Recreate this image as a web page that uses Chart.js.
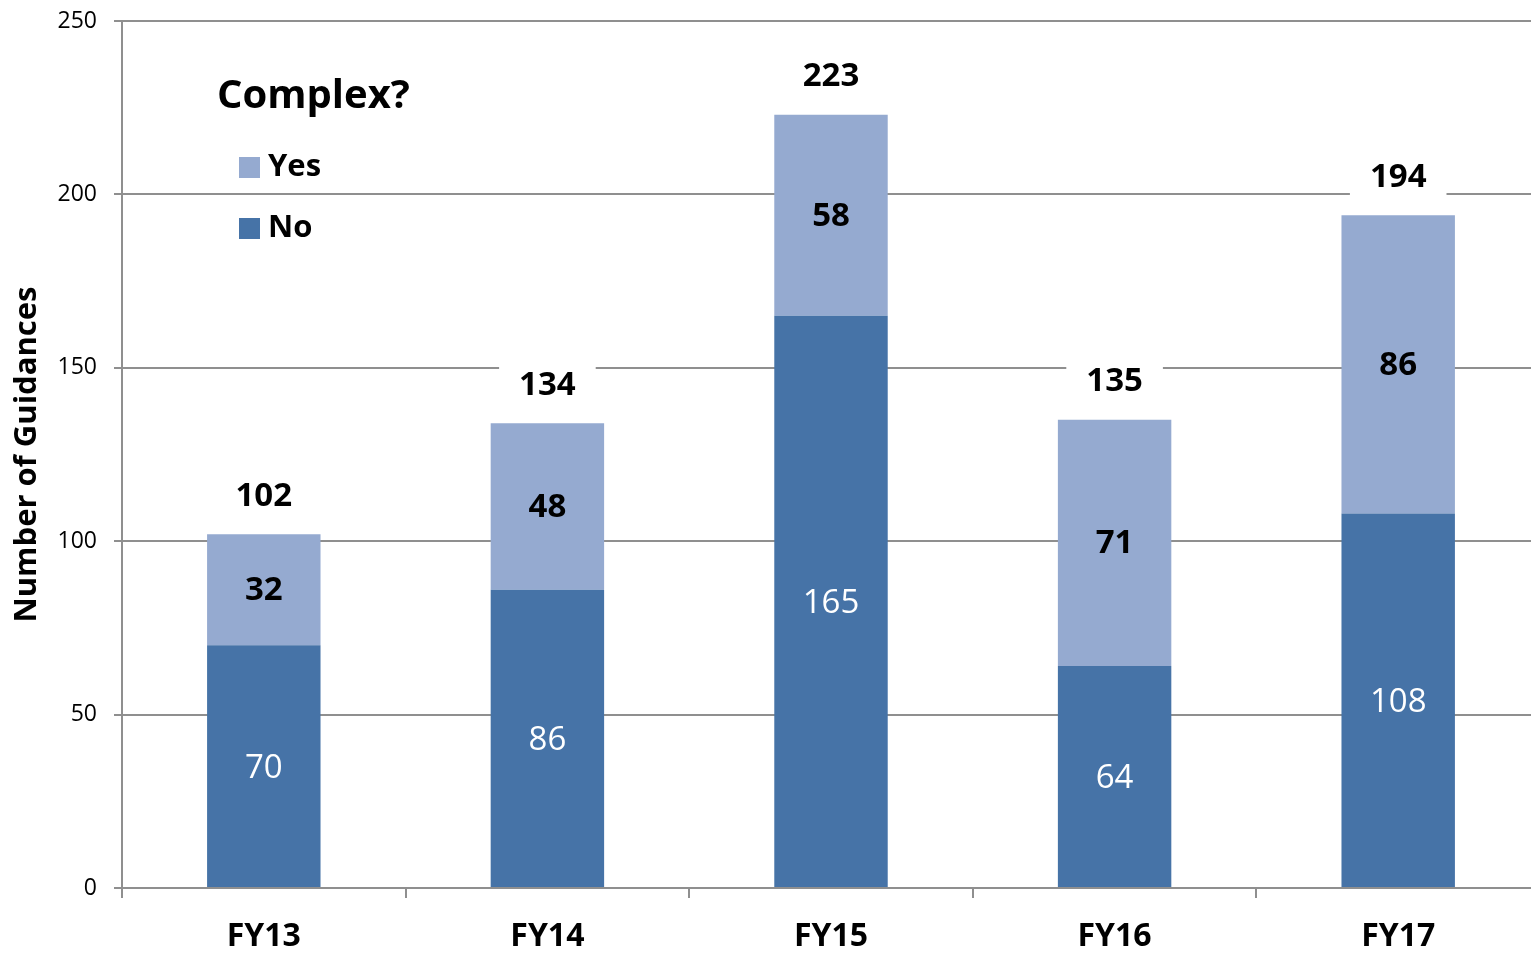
<!DOCTYPE html>
<html>
<head>
<meta charset="utf-8">
<script src="https://cdn.jsdelivr.net/npm/chart.js@4.4.1/dist/chart.umd.min.js"></script>
<style>
  html, body { margin: 0; padding: 0; background: #fff; overflow: hidden; }
  #wrap { position: absolute; left: 0; top: 0; }
</style>
</head>
<body>
<div id="wrap"><canvas id="guidanceChart" width="1545" height="954"></canvas></div>
<script>
// Datos del gráfico
const years = ['FY13', 'FY14', 'FY15', 'FY16', 'FY17'];
const notComplex = [70, 86, 165, 64, 108];
const complexYes = [32, 48, 58, 71, 86];
const yTicks = [0, 50, 100, 150, 200, 250];

const FONT = "'Open Sans', 'DejaVu Sans', sans-serif";
const gridGray = '#8f8f8f';

// Etiquetas dentro de las barras y totales encima
const barLabels = {
    id: 'barLabels',
    afterDatasetsDraw(chart) {
        const ctx = chart.ctx;
        ctx.save();
        ctx.textAlign = 'center';
        ctx.textBaseline = 'middle';
        const noMeta = chart.getDatasetMeta(0);
        const yesMeta = chart.getDatasetMeta(1);
        noMeta.data.forEach((bar, i) => {
            ctx.fillStyle = '#ffffff';
            ctx.font = '33px ' + FONT;
            ctx.fillText(String(notComplex[i]), bar.x, (bar.y + bar.base) / 2 + 2);
        });
        yesMeta.data.forEach((bar, i) => {
            ctx.fillStyle = '#000000';
            ctx.font = 'bold 33px ' + FONT;
            ctx.fillText(String(complexYes[i]), bar.x, (bar.y + bar.base) / 2 + 1);
            // total
            const total = notComplex[i] + complexYes[i];
            const ty = bar.y - 38;
            const w = ctx.measureText(String(total)).width;
            ctx.fillStyle = '#ffffff';
            ctx.fillRect(bar.x - w / 2 - 20, ty - 22, w + 40, 44);
            ctx.fillStyle = '#000000';
            ctx.fillText(String(total), bar.x, ty);
        });
        ctx.restore();
    }
};

// Leyenda dentro del área del gráfico
const insideLegend = {
    id: 'insideLegend',
    afterDraw(chart) {
        const ctx = chart.ctx;
        ctx.save();
        ctx.textBaseline = 'middle';
        ctx.textAlign = 'left';
        ctx.fillStyle = '#000';
        ctx.font = 'bold 40px ' + FONT;
        ctx.fillText('Complex?', 217, 97);
        const items = [1, 0];
        items.forEach((dsIndex, k) => {
            const ds = chart.data.datasets[dsIndex];
            const cy = 167 + k * 61;
            ctx.fillStyle = ds.backgroundColor;
            ctx.fillRect(239, cy - 10, 21, 21);
            ctx.fillStyle = '#000';
            ctx.font = 'bold 31px ' + FONT;
            ctx.fillText(ds.label, 268, cy);
        });
        ctx.restore();
    }
};

const ctx = document.getElementById('guidanceChart').getContext('2d');
new Chart(ctx, {
    type: 'bar',
    data: {
        labels: years,
        datasets: [
            { label: 'No', data: notComplex, backgroundColor: '#4673a7', barPercentage: 0.4, categoryPercentage: 1 },
            { label: 'Yes', data: complexYes, backgroundColor: '#95aad0', barPercentage: 0.4, categoryPercentage: 1 }
        ]
    },
    options: {
        responsive: false,
        animation: false,
        layout: { padding: { top: 21, right: 5, left: 0, bottom: 0 } },
        plugins: {
            legend: { display: false },
            tooltip: { enabled: false }
        },
        scales: {
            x: {
                stacked: true,
                afterFit: (scale) => { scale.height = 66; scale.paddingLeft = 0; scale.paddingRight = 0; },
                grid: { drawOnChartArea: false, drawTicks: true, tickLength: 10, color: gridGray, lineWidth: 2 },
                border: { color: gridGray, width: 2 },
                ticks: { color: '#000', padding: 20, font: { family: FONT, size: 32, weight: 'bold' } }
            },
            y: {
                stacked: true,
                min: 0,
                max: 250,
                afterFit: (scale) => { scale.width = 122; scale.paddingTop = 0; scale.paddingBottom = 0; },
                afterBuildTicks: (scale) => { scale.ticks = yTicks.map(v => ({ value: v })); },
                grid: { color: gridGray, lineWidth: 2, tickLength: 8 },
                border: { color: gridGray, width: 2 },
                ticks: { color: '#000', padding: 17, font: { family: FONT, size: 23 } },
                title: {
                    display: true,
                    text: 'Number of Guidances',
                    color: '#000',
                    padding: { top: 9, bottom: 0 },
                    font: { family: FONT, size: 31, weight: 'bold' }
                }
            }
        }
    },
    plugins: [barLabels, insideLegend]
});
</script>
</body>
</html>
